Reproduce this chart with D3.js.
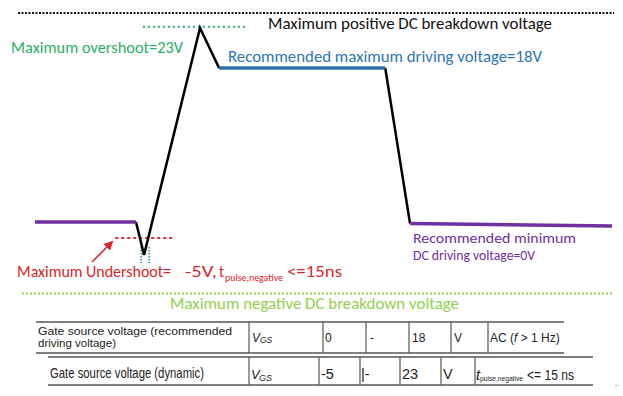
<!DOCTYPE html>
<html><head><meta charset="utf-8">
<script src="https://cdn.jsdelivr.net/npm/d3@7"></script>
<style>html,body{margin:0;padding:0;background:#fff;}svg{display:block;}</style>
</head><body>
<script>
// ---- data ----
const waveT = [0, 17.5, 18.9, 28.6, 31.9, 60.7, 65.0, 100];
const waveV = [0.12, 0.12, -3.7, 22.65, 18, 18, -0.05, -0.35];
const segFrom = [0, 1, 4, 5, 6];
const segTo = [1, 4, 5, 6, 7];
const segColor = ["#7030A0", "#000000", "#2E6FA8", "#000000", "#7030A0"];
const segWidth = [3.5, 2.5, 3.5, 2.5, 3.5];

const refNames = ["Maximum positive DC breakdown voltage", "Maximum overshoot=23V", "Maximum undershoot", "Maximum negative DC breakdown voltage"];
const refLevel = [24.4, 22.8, -1.75, -8.2];
const refT0 = [-2.95, 18.7, 13.9, -2.25];
const refT1 = [100.35, 36.4, 24.3, 100];
const refColor = ["#111111", "#2EAD68", "#E0302E", "#92D050"];
const refDash = ["2,1.5", "2,3", "3,3", "2,2"];

const pulseT = [18.4, 19.8];
const pulseV0 = [-2.8, -2.8];
const pulseV1 = [-4.65, -4.65];

const rowLabels = [["Gate source voltage (recommended", "driving voltage)"], ["Gate source voltage (dynamic)"]];
const rowMin = ["0", "-5"];
const rowSep = ["-", "|-"];
const rowMax = ["18", "23"];
const rowUnit = ["V", "V"];

// ---- setup ----
const W = 623, H = 396;
const svg = d3.select("body").append("svg").attr("width", W).attr("height", H);
const x = d3.scaleLinear().domain([0, 100]).range([35, 612]);
const y = d3.scaleLinear().domain([0, 18]).range([223, 68]);
const chartFont = "Carlito, Lato, 'Open Sans', sans-serif";
const tabFont = "'Liberation Sans', Arial, sans-serif";
const narrowFont = "'Liberation Sans Narrow', 'Arial Narrow', 'Liberation Sans', sans-serif";

// reference dotted lines
refLevel.forEach((lv, i) => {
  svg.append("line")
    .attr("x1", x(refT0[i])).attr("x2", x(refT1[i]))
    .attr("y1", y(lv)).attr("y2", y(lv))
    .attr("stroke", refColor[i]).attr("stroke-width", 2)
    .attr("stroke-dasharray", refDash[i]);
});
// pulse width markers
pulseT.forEach((t, i) => {
  svg.append("line")
    .attr("x1", x(t)).attr("x2", x(t))
    .attr("y1", y(pulseV0[i])).attr("y2", y(pulseV1[i]))
    .attr("stroke", "#2A9D6A").attr("stroke-width", 1.6)
    .attr("stroke-dasharray", "1.5,1.5");
});

// waveform segments
const line = d3.line().x(d => x(d[0])).y(d => y(d[1]));
const order = [1, 3, 0, 2, 4];
order.forEach(s => {
  const pts = [];
  for (let k = segFrom[s]; k <= segTo[s]; k++) pts.push([waveT[k], waveV[k]]);
  svg.append("path").attr("d", line(pts)).attr("fill", "none")
    .attr("stroke", segColor[s]).attr("stroke-width", segWidth[s])
    .attr("stroke-linejoin", "miter").attr("stroke-linecap", "butt");
});

// red arrow
svg.append("defs").append("marker").attr("id", "ah").attr("viewBox", "0 0 10 10")
  .attr("refX", 8).attr("refY", 5).attr("markerWidth", 6).attr("markerHeight", 6)
  .attr("orient", "auto").append("path").attr("d", "M0,0L10,5L0,10z").attr("fill", "#D92B2B");
svg.append("line").attr("x1", 92).attr("y1", 262).attr("x2", 112).attr("y2", 242)
  .attr("stroke", "#D92B2B").attr("stroke-width", 1.6).attr("marker-end", "url(#ah)");

// labels
function lbl(txt, xx, yy, size, color, len, family, extra) {
  const t = svg.append("text").attr("x", xx).attr("y", yy).text(txt)
    .attr("font-family", family || chartFont).attr("font-size", size).attr("fill", color);
  if (len) t.attr("textLength", len).attr("lengthAdjust", "spacingAndGlyphs");
  if (extra) extra(t);
  return t;
}
lbl(refNames[0], 268, 29, 16, "#111", 284);
lbl(refNames[1], 11, 53, 16, "#2EAD68", 172);
lbl("Recommended  maximum driving voltage=18V", 228, 62, 16, "#2E75B6", 314);
lbl("Recommended  minimum", 413, 243, 15, "#7030A0", 163);
lbl("DC driving voltage=0V", 413, 260, 15, "#7030A0", 122);
lbl(refNames[3], 170, 309, 16, "#92D050", 289);
lbl("Maximum Undershoot=", 17, 277, 16, "#D9262B", 154);
lbl("-5V,", 185, 277, 16, "#D9262B", 32);
lbl("t", 219, 277, 16, "#D9262B", 5);
lbl("pulse,negative", 225, 281, 11, "#D9262B", 58);
lbl("<=15ns", 287, 277, 16, "#D9262B", 55);

// ---- table ----
const g = svg.append("g");
const rowTop = [322, 357];
const rowBot = [353, 385];
const rowLeft = [36, 48];
const colX = [[249, 323, 366, 409, 451, 488, 564], [249, 319, 360, 400, 441, 475, 593]];
const stroke = "#555";
[0, 1].forEach(r => {
  g.append("line").attr("x1", rowLeft[r]).attr("x2", colX[r][6]).attr("y1", rowTop[r]).attr("y2", rowTop[r])
    .attr("stroke", stroke).attr("stroke-width", 1.6);
  g.append("line").attr("x1", rowLeft[r]).attr("x2", colX[r][6]).attr("y1", rowBot[r]).attr("y2", rowBot[r])
    .attr("stroke", stroke).attr("stroke-width", 1.6);
  colX[r].slice(0, 6).forEach(cx => {
    g.append("line").attr("x1", cx).attr("x2", cx).attr("y1", rowTop[r]).attr("y2", rowBot[r])
      .attr("stroke", stroke).attr("stroke-width", 1.2);
  });
});
const tc = "#222";
// row 1
lbl(rowLabels[0][0], 38, 335, 11.5, tc, 194, tabFont);
lbl(rowLabels[0][1], 38, 347, 11.5, tc, null, tabFont);
lbl("V", 252, 342, 12, tc, null, tabFont, t => t.attr("font-style", "italic"));
lbl("GS", 260, 343, 8.5, tc, null, tabFont, t => t.attr("font-style", "italic"));
lbl(rowMin[0], 325, 342, 12, tc, null, tabFont);
lbl(rowSep[0], 370, 342, 12, tc, null, tabFont);
lbl(rowMax[0], 412, 342, 12, tc, null, tabFont);
lbl(rowUnit[0], 454, 342, 12, tc, null, tabFont);
const ac = svg.append("text").attr("x", 490).attr("y", 342).attr("font-family", tabFont)
  .attr("font-size", 12).attr("fill", tc);
ac.append("tspan").text("AC (");
ac.append("tspan").attr("font-style", "italic").text("f");
ac.append("tspan").text(" > 1 Hz)");
// row 2
lbl(rowLabels[1][0], 50, 378, 14.5, tc, 154, narrowFont);
lbl("V", 251, 379, 13, tc, null, tabFont, t => t.attr("font-style", "italic"));
lbl("GS", 259, 381, 9, tc, null, tabFont, t => t.attr("font-style", "italic"));
lbl(rowMin[1], 321, 379, 14.5, tc, null, narrowFont);
lbl(rowSep[1], 361, 379, 14.5, tc, null, narrowFont);
lbl(rowMax[1], 402, 379, 14.5, tc, null, narrowFont);
lbl(rowUnit[1], 443, 379, 14.5, tc, null, narrowFont);
lbl("t", 476, 380, 14.5, tc, null, narrowFont, t => t.attr("font-style", "italic"));
lbl("pulse,negative", 480, 381, 8, tc, 43, narrowFont);
lbl("<= 15 ns", 527, 380, 14.5, tc, 47, narrowFont);

// corner glyph
lbl("\u2190", 613, 387, 10, "#aaa", null, tabFont);
</script>
</body></html>
